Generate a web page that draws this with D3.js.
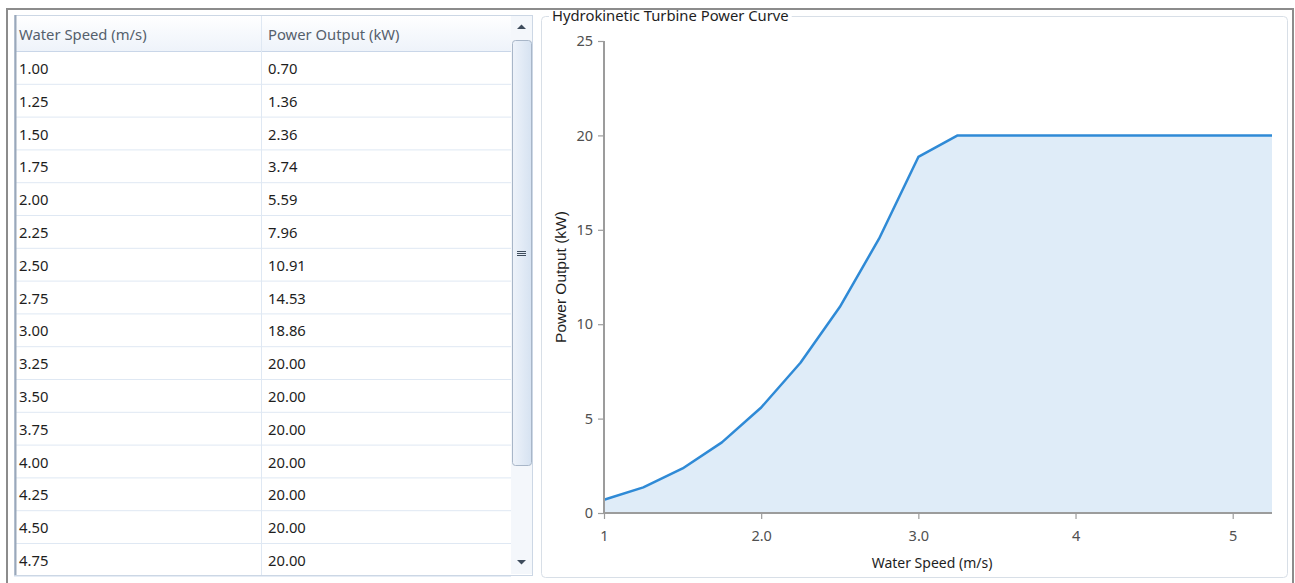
<!DOCTYPE html>
<html>
<head>
<meta charset="utf-8">
<script src="https://cdn.jsdelivr.net/npm/d3@7"></script>
<style>
  body { margin: 0; background: #fff; }
  svg text { font-family: "Noto Sans", "Open Sans", sans-serif; }
</style>
</head>
<body>
<svg id="chart" width="1295" height="583"></svg>
<script>
// data
var waterSpeed = [1.00, 1.25, 1.50, 1.75, 2.00, 2.25, 2.50, 2.75, 3.00, 3.25, 3.50, 3.75, 4.00, 4.25, 4.50, 4.75, 5.00, 5.25];
var powerOutput = [0.70, 1.36, 2.36, 3.74, 5.59, 7.96, 10.91, 14.53, 18.86, 20.00, 20.00, 20.00, 20.00, 20.00, 20.00, 20.00, 20.00, 20.00];
var columnNames = ["Water Speed (m/s)", "Power Output (kW)"];
var xTickValues = [1, 2, 3, 4, 5];
var xTickLabels = ["1", "2.0", "3.0", "4", "5"];
var yTickValues = [0, 5, 10, 15, 20, 25];

var svg = d3.select("#chart");

//---------------------------------------------------------------
// outer window frame
svg.append("path")
    .attr("d", "M7,583 V9 H1293 V583")
    .attr("fill", "none")
    .attr("stroke", "#8c8c8c")
    .attr("stroke-width", 2);

//---------------------------------------------------------------
// grid (table)
var table = {
    left : 14, right : 511, top : 15, headerBottom : 51,
    bottom : 575, rowHeight : 32.8, colSplit : 261
};

var tg = svg.append("g");

var headerGrad = svg.append("defs").append("linearGradient")
    .attr("id", "hdr").attr("x1", 0).attr("y1", 0).attr("x2", 0).attr("y2", 1);
headerGrad.append("stop").attr("offset", "0%").attr("stop-color", "#ffffff");
headerGrad.append("stop").attr("offset", "100%").attr("stop-color", "#eef3fa");

tg.append("rect")
    .attr("x", table.left).attr("y", table.top)
    .attr("width", table.right - table.left)
    .attr("height", table.headerBottom - table.top)
    .attr("fill", "url(#hdr)");

var rowIdx = d3.range(16);
tg.selectAll("line.row").data(rowIdx).enter().append("line")
    .attr("x1", table.left).attr("x2", table.right)
    .attr("y1", function(d){ return table.headerBottom + (d + 1) * table.rowHeight + 0.5; })
    .attr("y2", function(d){ return table.headerBottom + (d + 1) * table.rowHeight + 0.5; })
    .attr("stroke", "#dfe8f3");

tg.append("line")
    .attr("x1", table.left).attr("x2", table.right)
    .attr("y1", table.headerBottom + 0.5).attr("y2", table.headerBottom + 0.5)
    .attr("stroke", "#c9d6e8");

tg.append("line")
    .attr("x1", table.colSplit + 0.5).attr("x2", table.colSplit + 0.5)
    .attr("y1", table.top).attr("y2", table.bottom)
    .attr("stroke", "#dfe8f3");

tg.selectAll("text.hdr").data(columnNames).enter().append("text")
    .attr("x", function(d, i){ return i === 0 ? 19 : 268; })
    .attr("y", 40)
    .attr("font-size", 14.8)
    .attr("fill", "#55606c")
    .text(function(d){ return d; });

tg.selectAll("text.c1").data(rowIdx).enter().append("text")
    .attr("x", 19)
    .attr("y", function(d){ return table.headerBottom + d * table.rowHeight + 23; })
    .attr("font-size", 14.8)
    .attr("fill", "#1e1e1e")
    .text(function(d){ return waterSpeed[d].toFixed(2); });

tg.selectAll("text.c2").data(rowIdx).enter().append("text")
    .attr("x", 268)
    .attr("y", function(d){ return table.headerBottom + d * table.rowHeight + 23; })
    .attr("font-size", 14.8)
    .attr("fill", "#1e1e1e")
    .text(function(d){ return powerOutput[d].toFixed(2); });

// table border
tg.append("rect")
    .attr("x", table.left + 0.5).attr("y", table.top + 0.5)
    .attr("width", 533 - table.left - 1).attr("height", table.bottom - table.top)
    .attr("fill", "none").attr("stroke", "#ccd7e5");
tg.append("line")
    .attr("x1", table.left + 1.5).attr("x2", table.left + 1.5)
    .attr("y1", table.top).attr("y2", table.bottom)
    .attr("stroke", "#9aa8ba").attr("stroke-width", 2);

// scrollbar
var sb = tg.append("g");
sb.append("rect").attr("x", 511).attr("y", 16).attr("width", 21).attr("height", 558).attr("fill", "#f4f7fb");
sb.append("path").attr("d", "M517,29 L521.5,24.5 L526,29 Z").attr("fill", "#3e4c5c");
sb.append("path").attr("d", "M517,560 L521.5,564.5 L526,560 Z").attr("fill", "#3e4c5c");
var thumbGrad = svg.select("defs").append("linearGradient")
    .attr("id", "thumb").attr("x1", 0).attr("y1", 0).attr("x2", 1).attr("y2", 0);
thumbGrad.append("stop").attr("offset", "0%").attr("stop-color", "#eef3fa");
thumbGrad.append("stop").attr("offset", "100%").attr("stop-color", "#d6e2f1");
sb.append("rect").attr("x", 512.5).attr("y", 40.5).attr("width", 19).attr("height", 425).attr("rx", 3)
    .attr("fill", "url(#thumb)").attr("stroke", "#a8b6c8");
sb.selectAll("line.grip").data([0, 1, 2]).enter().append("line")
    .attr("x1", 517).attr("x2", 526)
    .attr("y1", function(d){ return 251.5 + d * 2; })
    .attr("y2", function(d){ return 251.5 + d * 2; })
    .attr("stroke", "#3e4c5c");

//---------------------------------------------------------------
// chart group box
var cg = svg.append("g");
cg.append("rect")
    .attr("x", 541.5).attr("y", 16.5).attr("width", 746).attr("height", 561).attr("rx", 4)
    .attr("fill", "none").attr("stroke", "#d8dfe7");
var title = cg.append("text")
    .attr("x", 552).attr("y", 21)
    .attr("font-size", 14.8)
    .attr("fill", "#1e1e1e")
    .text("Hydrokinetic Turbine Power Curve");
var tb = title.node().getBBox();
cg.insert("rect", "text")
    .attr("x", tb.x - 3).attr("y", 10).attr("width", tb.width + 6).attr("height", 12)
    .attr("fill", "#fff");

var x = d3.scaleLinear().domain([1, 5.25]).range([604, 1272]);
var y = d3.scaleLinear().domain([0, 25]).range([513, 41]);

var pts = waterSpeed.map(function(d, i){ return [d, powerOutput[i]]; });

cg.append("path")
    .datum(pts)
    .attr("fill", "#dfecf8")
    .attr("d", d3.area().x(function(d){ return x(d[0]); }).y0(y(0)).y1(function(d){ return y(d[1]); }));

cg.append("path")
    .datum(pts)
    .attr("fill", "none")
    .attr("stroke", "#2f8ad6")
    .attr("stroke-width", 2.5)
    .attr("stroke-linejoin", "round")
    .attr("d", d3.line().x(function(d){ return x(d[0]); }).y(function(d){ return y(d[1]); }));

var xAxis = cg.append("g")
    .attr("transform", "translate(0," + y(0) + ")")
    .call(d3.axisBottom(x).tickValues(xTickValues).tickSize(6).tickPadding(12)
        .tickFormat(function(d, i){ return xTickLabels[i]; }));

var yAxis = cg.append("g")
    .attr("transform", "translate(" + x(1) + ",0)")
    .call(d3.axisLeft(y).tickValues(yTickValues).tickSize(6).tickPadding(5));

[xAxis, yAxis].forEach(function(a){
    a.select(".domain").attr("stroke", "#9c9c9c").attr("stroke-width", 2);
    a.selectAll(".tick line").attr("stroke", "#9c9c9c").attr("stroke-width", 1.2);
    a.selectAll(".tick text").attr("font-size", 14.5).attr("fill", "#505050")
        .attr("font-family", "'Noto Sans', sans-serif");
});
xAxis.select(".domain").attr("d", "M" + x(1) + ",0 H" + x(5.25));
yAxis.select(".domain").attr("d", "M0," + y(0) + " V" + y(25));

cg.append("text")
    .attr("x", 932).attr("y", 568)
    .attr("text-anchor", "middle")
    .attr("font-size", 14)
    .attr("fill", "#1e1e1e")
    .text("Water Speed (m/s)");

cg.append("text")
    .attr("transform", "translate(566,277) rotate(-90)")
    .attr("text-anchor", "middle")
    .attr("font-size", 15.5)
    .attr("fill", "#1e1e1e")
    .style("font-family", "'Liberation Sans', Arial, sans-serif")
    .text("Power Output (kW)");
</script>
</body>
</html>
